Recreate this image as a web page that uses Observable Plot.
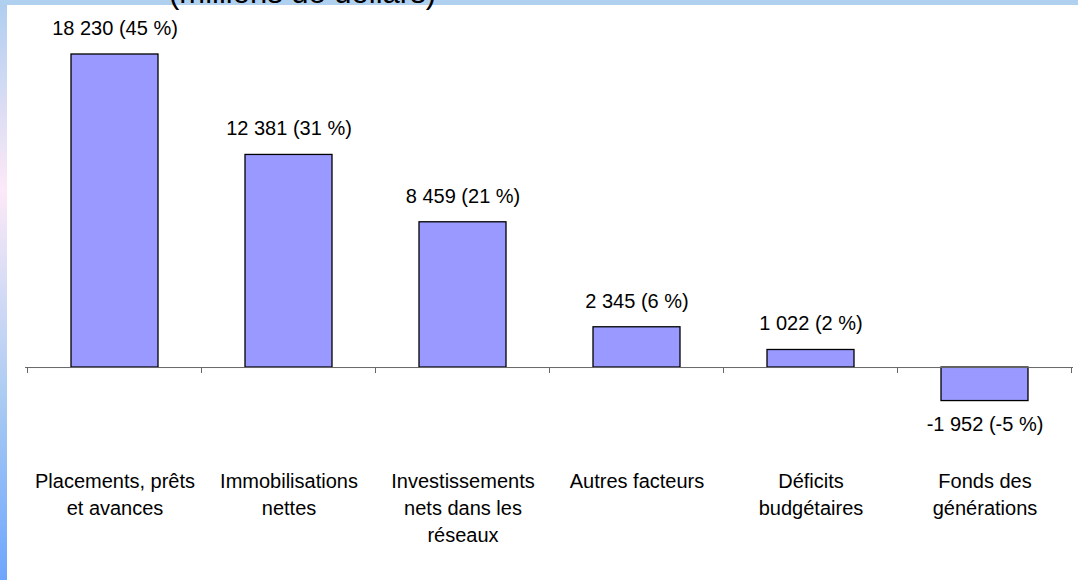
<!DOCTYPE html>
<html><head><meta charset="utf-8">
<script src="https://cdn.jsdelivr.net/npm/d3@7"></script>
<script src="https://cdn.jsdelivr.net/npm/@observablehq/plot@0.6"></script>
<style>
html,body{margin:0;padding:0;background:#fff;}
#wrap{position:relative;width:1078px;height:580px;overflow:hidden;font-family:"Liberation Sans",Arial,sans-serif;}
#strip{position:absolute;left:0;top:0;width:7px;height:580px;background:linear-gradient(to bottom,#aecdf0 0px,#fde9f7 190px,#a9cbf3 400px,#6ea6fd 580px);}
#band{position:absolute;left:0;top:0;width:1078px;height:5px;background:#b0d0f0;}
#chart{position:absolute;left:7px;top:5px;width:1071px;height:575px;background:#fff;}
#title{position:absolute;left:0;width:605px;text-align:center;top:-23px;font-size:31px;line-height:31px;color:#000;white-space:nowrap;}
</style>
</head><body>
<div id="wrap">
  <div id="strip"></div>
  <div id="band"></div>
  <div id="chart"></div>
  <div id="title">(millions de dollars)</div>
</div>
<script>
const categories = ["Placements, prêts et avances", "Immobilisations nettes", "Investissements nets dans les réseaux", "Autres facteurs", "Déficits budgétaires", "Fonds des générations"];
const tickLabels = ["Placements, prêts\net avances", "Immobilisations\nnettes", "Investissements\nnets dans les\nréseaux", "Autres facteurs", "Déficits\nbudgétaires", "Fonds des\ngénérations"];
const values = [18230, 12381, 8459, 2345, 1022, -1952];
const percents = [45, 31, 21, 6, 2, -5];
const yDomain = [-5000, 20000];

const fmt = d3.formatLocale({decimal: ",", thousands: " ", grouping: [3], currency: ["", " $"], minus: "-"}).format(",d");
const data = categories.map((c, i) => ({
  cat: c,
  tick: tickLabels[i],
  value: values[i],
  label: `${fmt(values[i])} (${percents[i]} %)`
}));

const tickMark = (index, scales) => {
  const x = scales.x, y = scales.y;
  const bw = x.bandwidth();
  const step = typeof x.step === "function" ? x.step() : (x(categories[1]) - x(categories[0]));
  const off = (step - bw) / 2;
  const xs = categories.map(c => x(c) - off).concat([x(categories[categories.length - 1]) + bw + off]);
  const y0 = y(0);
  const g = d3.create("svg:g");
  for (const xv of xs) {
    g.append("line").attr("x1", xv).attr("x2", xv).attr("y1", y0).attr("y2", y0 + 6)
      .attr("stroke", "#666").attr("stroke-width", 1);
  }
  return g.node();
};

const chart = Plot.plot({
  width: 1071,
  height: 575,
  marginLeft: 18,
  marginRight: 5,
  marginTop: 18.6,
  marginBottom: 127.1,
  x: {domain: categories, paddingInner: 0.5, paddingOuter: 0.25, axis: null},
  y: {domain: yDomain, axis: null},
  style: {fontFamily: "'Liberation Sans', Arial, sans-serif", background: "#fff", color: "#000"},
  marks: [
    Plot.barY(data, {x: "cat", y: "value", fill: "#9999ff", stroke: "#000", strokeWidth: 1.3}),
    Plot.ruleY([0], {stroke: "#666", strokeWidth: 1}),
    tickMark,
    Plot.text(data.filter(d => d.value >= 0), {x: "cat", y: "value", text: "label", fontSize: 20, fill: "#000", dy: -26}),
    Plot.text(data.filter(d => d.value < 0), {x: "cat", y: "value", text: "label", fontSize: 20, fill: "#000", dy: 23.6}),
    Plot.text(data, {x: "cat", text: "tick", frameAnchor: "bottom", lineAnchor: "top", dy: 15, lineHeight: 1.36, fontSize: 20, fill: "#000"})
  ]
});
document.getElementById("chart").appendChild(chart);
</script>
</body></html>
